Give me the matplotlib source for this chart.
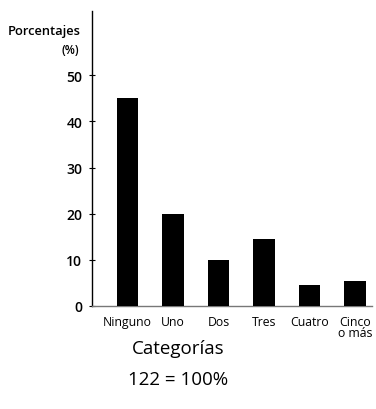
import matplotlib
matplotlib.use("Agg")
import matplotlib.pyplot as plt

plt.rcParams['font.family'] = ['Open Sans', 'DejaVu Sans']

categories = ["Ninguno", "Uno", "Dos", "Tres", "Cuatro", "Cinco\no más"]
values = [45, 20, 10, 14.6, 4.5, 5.4]
yticks = [0, 10, 20, 30, 40, 50]

fig = plt.figure(figsize=(3.76, 4.10), dpi=100)
ax = fig.add_axes([92/376, 1-307/410, (372-92)/376, (307-12)/410])

x = list(range(len(categories)))
ax.bar(x, values, width=0.47, color='black', zorder=3)

ax.set_xlim(-0.78, 5.37)
ax.set_ylim(0, 63.9)
ax.set_yticks(yticks)
ax.set_yticklabels([str(v) for v in yticks], fontsize=10, fontweight='semibold')
ax.set_xticks(x)
ax.set_xticklabels(categories, fontsize=8.8, linespacing=0.8, va='top')

for s in ['top', 'right']:
    ax.spines[s].set_visible(False)
ax.spines['left'].set_linewidth(1.0)
ax.spines['bottom'].set_color('#777777')
ax.spines['bottom'].set_linewidth(1.0)
ax.tick_params(axis='y', direction='inout', length=4, width=0.8, pad=5)
ax.tick_params(axis='x', length=0, pad=6.5)

fig.text(8/376, 1-32/410, "Porcentajes", fontsize=9.3, fontweight='semibold', ha='left', va='center')
fig.text(70/376, 1-50/410, "(%)", fontsize=8.5, fontweight='semibold', ha='center', va='center')
fig.text(178/376, 1-349/410, "Categorías", fontsize=13.5, ha='center', va='center')
fig.text(178/376, 1-380/410, "122 = 100%", fontsize=13.5, ha='center', va='center')

fig.savefig("out.png", dpi=100)
